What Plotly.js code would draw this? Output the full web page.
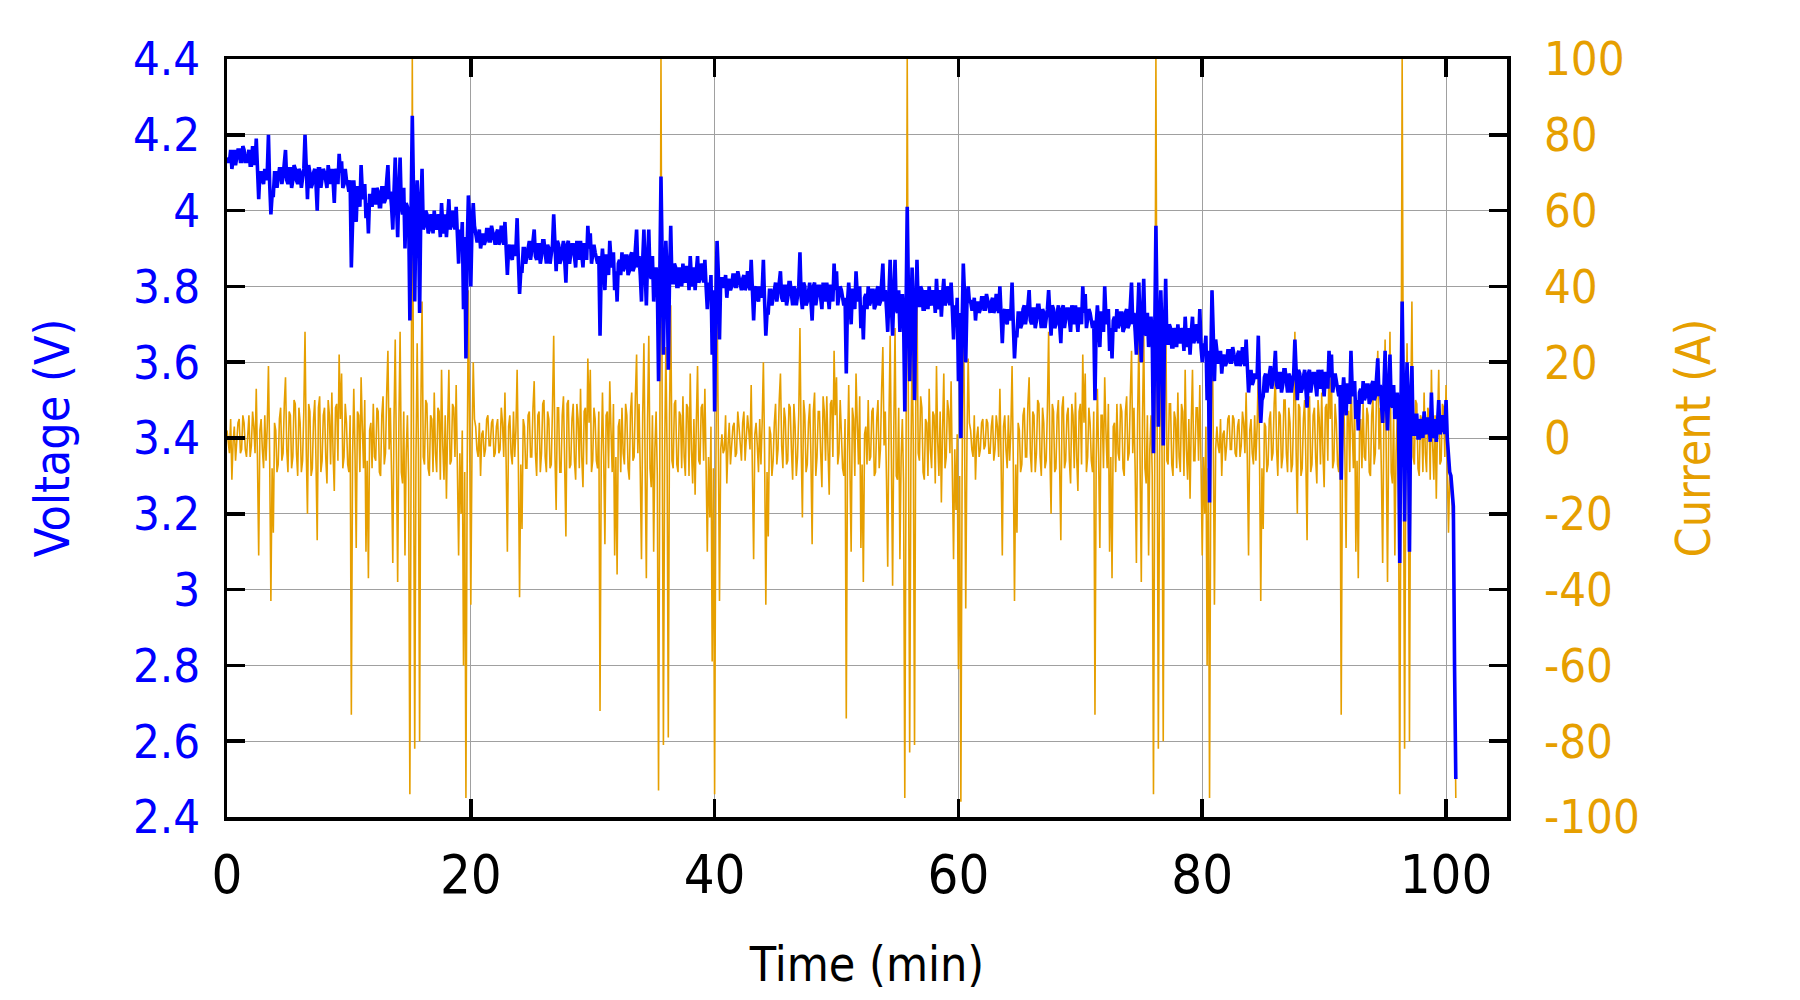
<!DOCTYPE html>
<html>
<head>
<meta charset="utf-8">
<script src="https://cdn.plot.ly/plotly-3.0.1.min.js"></script>
<style>html,body{margin:0;padding:0;background:#fff;}#chart{width:1800px;height:1000px;}</style>
</head>
<body>
<div id="chart"></div>
<script>
// Sampling of the logged series (minutes)
const timeStartMin = 0;
const sampleStepMin = 0.1;

// Voltage (V), one drive cycle per array
const voltageCycle1 = [4.14,4.13,4.13,4.16,4.11,4.14,4.16,4.12,4.14,4.16,4.16,4.13,4.13,4.17,4.16,4.13,4.13,4.15,4.16,4.12,
 4.12,4.17,4.14,4.12,4.19,4.10,4.03,4.10,4.10,4.08,4.07,4.11,4.08,4.10,4.20,4.07,3.99,4.04,4.04,4.10,
 4.10,4.06,4.08,4.11,4.11,4.07,4.09,4.12,4.16,4.08,4.07,4.11,4.11,4.06,4.08,4.12,4.11,4.08,4.07,4.11,
 4.10,4.06,4.08,4.11,4.20,4.08,4.03,4.12,4.10,4.06,4.07,4.10,4.11,4.07,4.00,4.11,4.11,4.06,4.08,4.11,
 4.10,4.08,4.06,4.12,4.09,4.07,4.11,4.08,4.02,4.11,4.10,4.07,4.15,4.10,4.13,4.06,4.07,4.11,4.08,4.07,
 4.05,4.08,3.85,4.03,4.08,4.03,3.97,4.06,4.06,4.01,4.12,4.05,4.03,4.07,3.98,4.02,3.94,4.04,4.04,4.01,
 4.06,4.02,4.02,4.06,4.05,4.01,4.01,4.06,4.06,4.02,4.03,4.08,4.12,4.03,4.05,4.01,3.95,4.05,4.14,4.02,
 3.93,4.05,4.14,4.01,3.99,4.06,3.90,4.02,4.01,3.99,3.71,4.00,4.25,4.05,3.76,3.99,4.08,4.01,3.73,4.00,
 4.11,3.95,3.96,4.00,3.99,3.94,3.95,3.99,3.98,3.94,4.00,3.96,3.95,3.99,3.98,3.93,4.02,3.96,3.94,3.99,
 3.93,3.98,4.03,3.95,3.96,4.00,3.98,3.95,4.01,3.94,3.86,3.95,3.90,3.97,3.74,3.93,3.61,3.90,4.04,3.98,
 3.80,3.96,4.02,3.96];
const voltageCycle2 = [3.94,3.92,3.92,3.95,3.90,3.93,3.94,3.91,3.92,3.95,3.95,3.92,3.92,3.96,3.94,3.92,3.91,3.94,3.95,3.91,
 3.92,3.96,3.93,3.91,3.97,3.89,3.83,3.90,3.91,3.88,3.87,3.91,3.88,3.90,3.98,3.87,3.78,3.84,3.84,3.90,
 3.90,3.86,3.88,3.91,3.92,3.87,3.89,3.92,3.95,3.88,3.87,3.91,3.91,3.86,3.88,3.92,3.92,3.88,3.86,3.91,
 3.90,3.86,3.88,3.91,3.99,3.88,3.84,3.92,3.91,3.86,3.87,3.90,3.92,3.87,3.81,3.91,3.92,3.86,3.88,3.91,
 3.91,3.88,3.85,3.92,3.90,3.87,3.92,3.88,3.85,3.91,3.91,3.87,3.96,3.90,3.94,3.86,3.88,3.91,3.89,3.87,
 3.86,3.88,3.67,3.85,3.90,3.85,3.79,3.88,3.88,3.83,3.92,3.87,3.85,3.89,3.79,3.84,3.76,3.86,3.87,3.83,
 3.89,3.84,3.85,3.88,3.88,3.83,3.84,3.88,3.89,3.84,3.85,3.90,3.95,3.85,3.88,3.83,3.76,3.87,3.95,3.84,
 3.75,3.87,3.95,3.83,3.82,3.88,3.76,3.84,3.85,3.81,3.55,3.82,4.09,3.87,3.62,3.81,3.92,3.83,3.58,3.82,
 3.96,3.81,3.81,3.86,3.85,3.80,3.80,3.85,3.84,3.80,3.86,3.82,3.81,3.85,3.85,3.79,3.88,3.82,3.80,3.85,
 3.79,3.84,3.88,3.81,3.82,3.86,3.85,3.81,3.87,3.80,3.74,3.81,3.77,3.83,3.62,3.79,3.47,3.76,3.92,3.84,
 3.66,3.82];
const voltageCycle3 = [3.82,3.80,3.80,3.83,3.77,3.81,3.82,3.79,3.80,3.83,3.83,3.80,3.80,3.84,3.82,3.80,3.79,3.82,3.83,3.79,
 3.80,3.84,3.82,3.79,3.87,3.77,3.71,3.79,3.80,3.77,3.76,3.80,3.77,3.79,3.87,3.76,3.67,3.73,3.73,3.79,
 3.79,3.75,3.77,3.80,3.81,3.76,3.78,3.81,3.84,3.77,3.76,3.80,3.80,3.75,3.77,3.81,3.81,3.77,3.75,3.80,
 3.79,3.75,3.77,3.80,3.89,3.77,3.74,3.81,3.80,3.75,3.76,3.79,3.81,3.76,3.71,3.80,3.81,3.75,3.77,3.80,
 3.80,3.77,3.74,3.81,3.79,3.76,3.81,3.77,3.74,3.80,3.80,3.76,3.86,3.79,3.84,3.75,3.77,3.80,3.79,3.76,
 3.75,3.77,3.57,3.76,3.81,3.76,3.70,3.79,3.79,3.74,3.84,3.78,3.76,3.80,3.69,3.75,3.66,3.77,3.78,3.74,
 3.80,3.75,3.76,3.79,3.79,3.74,3.75,3.79,3.80,3.75,3.76,3.81,3.86,3.76,3.79,3.74,3.68,3.78,3.87,3.75,
 3.67,3.78,3.87,3.74,3.73,3.79,3.68,3.75,3.78,3.72,3.47,3.73,4.01,3.78,3.55,3.72,3.85,3.74,3.50,3.73,
 3.87,3.75,3.75,3.80,3.79,3.74,3.74,3.79,3.78,3.74,3.80,3.76,3.75,3.79,3.78,3.73,3.82,3.76,3.74,3.79,
 3.72,3.78,3.82,3.75,3.76,3.80,3.79,3.75,3.81,3.74,3.66,3.75,3.70,3.77,3.55,3.73,3.40,3.70,3.86,3.78,
 3.60,3.76,3.80,3.76];
const voltageCycle4 = [3.76,3.74,3.74,3.77,3.71,3.75,3.76,3.73,3.74,3.77,3.77,3.74,3.74,3.78,3.76,3.74,3.73,3.76,3.77,3.73,
 3.74,3.78,3.75,3.73,3.80,3.71,3.65,3.73,3.74,3.71,3.70,3.74,3.71,3.73,3.81,3.70,3.61,3.67,3.67,3.73,
 3.73,3.69,3.70,3.74,3.75,3.70,3.72,3.75,3.79,3.71,3.70,3.74,3.74,3.69,3.71,3.75,3.75,3.71,3.69,3.74,
 3.73,3.69,3.71,3.74,3.79,3.71,3.67,3.75,3.74,3.69,3.70,3.73,3.75,3.70,3.65,3.74,3.75,3.69,3.71,3.74,
 3.74,3.71,3.68,3.75,3.73,3.70,3.75,3.71,3.68,3.74,3.74,3.70,3.80,3.73,3.78,3.69,3.71,3.74,3.73,3.70,
 3.69,3.71,3.50,3.70,3.75,3.70,3.64,3.73,3.73,3.68,3.80,3.72,3.70,3.74,3.63,3.69,3.61,3.71,3.72,3.68,
 3.74,3.69,3.70,3.73,3.73,3.68,3.69,3.73,3.74,3.69,3.70,3.75,3.81,3.70,3.73,3.68,3.62,3.72,3.81,3.69,
 3.60,3.72,3.82,3.68,3.67,3.73,3.64,3.69,3.72,3.66,3.36,3.67,3.96,3.72,3.43,3.66,3.79,3.68,3.38,3.67,
 3.82,3.65,3.65,3.70,3.69,3.64,3.64,3.69,3.68,3.64,3.70,3.66,3.65,3.69,3.68,3.63,3.72,3.66,3.64,3.69,
 3.62,3.68,3.72,3.65,3.66,3.70,3.69,3.65,3.74,3.64,3.60,3.65,3.63,3.67,3.50,3.63,3.23,3.60,3.79,3.68,
 3.55,3.66];
const voltageCycle5 = [3.62,3.60,3.60,3.63,3.57,3.61,3.62,3.59,3.60,3.63,3.63,3.60,3.60,3.64,3.62,3.60,3.59,3.62,3.63,3.59,
 3.60,3.64,3.61,3.59,3.66,3.57,3.52,3.56,3.58,3.54,3.55,3.57,3.56,3.56,3.67,3.53,3.44,3.50,3.51,3.56,
 3.57,3.52,3.54,3.57,3.59,3.53,3.55,3.58,3.63,3.54,3.53,3.57,3.57,3.52,3.54,3.58,3.58,3.54,3.52,3.57,
 3.56,3.52,3.54,3.57,3.66,3.54,3.50,3.58,3.57,3.52,3.53,3.56,3.58,3.53,3.48,3.57,3.58,3.52,3.54,3.57,
 3.57,3.54,3.51,3.58,3.56,3.53,3.58,3.54,3.51,3.57,3.57,3.53,3.63,3.56,3.62,3.52,3.54,3.57,3.55,3.53,
 3.51,3.54,3.29,3.51,3.56,3.51,3.46,3.54,3.54,3.49,3.63,3.53,3.51,3.55,3.45,3.50,3.42,3.52,3.53,3.49,
 3.55,3.50,3.51,3.54,3.54,3.49,3.50,3.54,3.55,3.50,3.51,3.56,3.61,3.51,3.54,3.49,3.44,3.53,3.63,3.50,
 3.42,3.53,3.62,3.49,3.48,3.54,3.45,3.50,3.52,3.47,3.07,3.48,3.76,3.53,3.18,3.47,3.60,3.49,3.10,3.48,
 3.59,3.41,3.41,3.46,3.46,3.40,3.40,3.45,3.44,3.40,3.47,3.42,3.41,3.45,3.45,3.39,3.52,3.42,3.40,3.45,
 3.39,3.44,3.50,3.41,3.42,3.46,3.45,3.41,3.50,3.40,3.33,3.31,3.30,3.27,3.22,2.79,2.50];

// Current (A), one drive cycle per array
const currentCycle1 = [2,-2,-4,5,-11,-1,3,-6,-2,4,5,-4,-3,6,4,-3,-5,2,6,-5,
 -2,7,3,-4,13,-6,-31,2,5,-3,-8,6,-6,3,19,-5,-43,-8,-25,4,
 2,-9,-7,5,8,-6,-4,9,16,-3,-9,7,6,-8,-5,10,9,-4,-10,8,
 4,-9,-6,7,28,-3,-20,9,7,-10,-8,5,10,-6,-27,8,11,-9,-6,6,
 8,-5,-12,10,6,-7,12,-4,-14,8,9,-6,22,5,17,-8,-5,9,4,-7,
 -9,6,-73,-5,13,-4,-29,7,6,-9,16,3,-8,10,-30,-6,-37,2,4,-8,
 9,-5,-6,8,7,-9,-10,6,11,-7,-4,12,23,-3,8,-10,-33,5,26,-6,
 -38,4,28,-9,-12,7,-31,-4,6,-11,-94,-8,100,4,-82,-6,25,-3,-80,7,
 36,-5,-7,10,9,-8,-10,6,5,-9,12,-4,-9,8,7,-11,18,-2,-11,6,
 -16,3,18,-7,-6,9,8,-5,14,-8,-31,-4,-20,2,-60,-9,-95,-10,39,3,
 -44,-2,20,5];
const currentCycle2 = [3,-3,-5,4,-10,1,2,-5,-3,5,6,-2,-2,4,5,-5,-4,3,5,-4,
 -3,8,4,-5,12,-7,-30,3,6,-4,-7,7,-5,2,18,-6,-42,-7,-24,5,
 3,-8,-8,6,7,-5,-5,8,15,-4,-10,6,7,-9,-4,9,10,-5,-9,7,
 5,-8,-7,8,27,-4,-19,8,8,-9,-9,6,11,-7,-26,9,10,-8,-7,5,
 9,-6,-11,9,5,-8,13,-5,-13,7,8,-7,21,4,18,-9,-6,8,5,-6,
 -8,7,-72,-6,12,-5,-28,6,7,-8,15,2,-9,9,-31,-5,-36,3,5,-9,
 8,-4,-7,9,6,-8,-11,7,12,-6,-5,11,22,-4,9,-9,-32,6,25,-7,
 -37,5,27,-8,-13,6,-30,-3,7,-10,-93,-7,100,5,-81,-5,24,-4,-79,6,
 35,-6,-8,9,10,-7,-9,7,6,-8,11,-5,-10,9,8,-10,17,-3,-12,5,
 -15,4,19,-6,-7,8,9,-6,13,-7,-30,-5,-21,3,-59,-8,-94,-9,38,2,
 -43,-3];
const currentCycle3 = [1,-4,-3,6,-12,-2,4,-7,-1,3,4,-5,-4,7,3,-2,-6,4,7,-6,
 -1,6,2,-3,14,-5,-32,1,4,-2,-9,5,-7,4,20,-4,-44,-9,-26,3,
 1,-10,-6,4,9,-7,-3,10,17,-2,-8,8,5,-7,-6,9,8,-3,-11,9,
 3,-10,-5,6,29,-2,-21,10,6,-9,-7,4,9,-5,-28,7,12,-10,-5,7,
 7,-4,-13,11,7,-6,11,-3,-15,9,10,-5,23,6,16,-7,-4,10,3,-8,
 -10,5,-74,-4,14,-3,-30,8,5,-10,17,4,-7,11,-29,-7,-38,1,3,-7,
 10,-6,-5,7,8,-10,-9,5,10,-8,-3,13,24,-2,7,-11,-34,4,27,-5,
 -39,3,29,-10,-11,8,-32,-5,5,-12,-95,-9,100,3,-83,-7,26,-2,-81,8,
 37,-4,-6,11,8,-9,-11,5,4,-10,13,-3,-8,7,6,-12,19,-1,-10,7,
 -17,2,17,-8,-5,10,7,-4,15,-9,-32,-3,-19,1,-61,-10,-96,-11,40,4,
 -45,-1,21,4];
const currentCycle4 = [2,-3,-5,6,-11,0,3,-5,-3,4,5,-3,-2,5,4,-4,-4,3,6,-6,
 -3,6,3,-5,13,-6,-31,3,6,-3,-8,6,-6,2,19,-6,-43,-7,-25,4,
 2,-9,-7,6,8,-5,-5,9,16,-4,-9,7,6,-9,-4,10,9,-5,-10,8,
 4,-8,-6,8,28,-4,-20,9,7,-9,-8,6,10,-7,-27,8,11,-8,-6,6,
 8,-6,-12,9,6,-8,12,-5,-14,7,9,-7,22,4,17,-9,-5,8,4,-6,
 -9,7,-73,-6,13,-5,-29,6,6,-8,16,2,-8,9,-30,-5,-37,3,4,-9,
 9,-4,-6,9,7,-8,-10,7,11,-6,-4,11,23,-4,8,-9,-33,6,26,-7,
 -38,5,28,-8,-12,6,-31,-3,6,-10,-94,-7,100,5,-82,-5,25,-4,-80,6,
 36,-6,-7,9,9,-7,-10,7,5,-8,12,-5,-9,9,7,-10,18,-3,-11,5,
 -16,4,18,-6,-6,8,8,-6,14,-7,-31,-5,-20,3,-60,-8,-95,-9,39,2,
 -44,-3];
const currentCycle5 = [3,-2,-4,5,-10,1,2,-6,-2,5,6,-3,-3,6,5,-4,-5,3,5,-5,
 -2,7,4,-4,12,-6,-31,2,5,-4,-7,6,-6,3,18,-5,-43,-8,-24,4,
 3,-9,-7,5,7,-6,-4,9,16,-3,-10,7,6,-8,-5,10,10,-4,-9,8,
 4,-9,-7,7,28,-3,-20,9,8,-10,-8,5,10,-6,-27,8,11,-9,-7,6,
 8,-5,-12,10,5,-7,12,-4,-13,8,9,-6,22,5,17,-8,-6,9,4,-7,
 -9,6,-73,-5,12,-4,-29,7,7,-9,16,3,-8,10,-30,-6,-37,2,5,-8,
 9,-5,-6,8,6,-9,-10,6,11,-7,-4,12,23,-3,8,-10,-33,5,26,-6,
 -38,4,28,-9,-12,7,-31,-4,6,-11,-94,-8,100,4,-82,-6,25,-3,-80,7,
 36,-5,-7,10,9,-8,-10,6,5,-9,12,-4,-9,8,7,-11,18,-2,-11,6,
 -16,3,18,-7,-6,9,8,-5,14,-8,-25,-10,-12,-18,-25,-60,-95];

// Tick labels
const timeTicks = [0,20,40,60,80,100];
const timeTickLabels = ["0","20","40","60","80","100"];
const voltageTicks = [2.4,2.6,2.8,3.0,3.2,3.4,3.6,3.8,4.0,4.2,4.4];
const voltageTickLabels = ["2.4","2.6","2.8","3","3.2","3.4","3.6","3.8","4","4.2","4.4"];
const currentTicks = [-100,-80,-60,-40,-20,0,20,40,60,80,100];
const currentTickLabels = ["-100","-80","-60","-40","-20","0","20","40","60","80","100"];

const voltage = [].concat(voltageCycle1, voltageCycle2, voltageCycle3, voltageCycle4, voltageCycle5);
const current = [].concat(currentCycle1, currentCycle2, currentCycle3, currentCycle4, currentCycle5);

const FONT = '"DejaVu Sans Condensed", "DejaVu Sans", sans-serif';
const BLUE = '#0000FF';
const ORANGE = '#E69F00';
const GRID = '#a0a0a0';

const traces = [
  {type:'scatter', mode:'lines', name:'Current', y: current, x0: timeStartMin, dx: sampleStepMin,
   xaxis:'x', yaxis:'y', line:{color:ORANGE, width:1.6}},
  {type:'scatter', mode:'lines', name:'Voltage', y: voltage, x0: timeStartMin, dx: sampleStepMin,
   xaxis:'x', yaxis:'y2', line:{color:BLUE, width:3.6}}
];

const axisCommon = {
  showline:true, linecolor:'black', linewidth:3.5,
  ticks:'inside', ticklen:18, tickwidth:3.5, tickcolor:'black',
  zeroline:false
};

const layout = {
  width:1800, height:1000,
  margin:{l:227, r:293, t:59, b:183, pad:0},
  paper_bgcolor:'#ffffff', plot_bgcolor:'#ffffff',
  showlegend:false,
  font:{family:FONT, size:48, color:'black'},
  xaxis: Object.assign({}, axisCommon, {
    range:[0,105], tickmode:'array', tickvals:timeTicks, ticktext:timeTickLabels,
    mirror:'ticks', showgrid:true, gridcolor:GRID, gridwidth:1,
    tickfont:{family:FONT, size:54, color:'black'}, ticklabelstandoff:8,
    title:{text:'Time (min)', font:{family:FONT, size:48, color:'black'}, standoff:43}
  }),
  yaxis: Object.assign({}, axisCommon, {
    range:[-100,100], side:'right', tickmode:'array', tickvals:currentTicks, ticktext:currentTickLabels,
    showgrid:false, tickfont:{family:FONT, size:47, color:ORANGE}, ticklabelstandoff:24,
    title:{text:'Current (A)', font:{family:FONT, size:48, color:ORANGE}, standoff:38}
  }),
  yaxis2: Object.assign({}, axisCommon, {
    range:[2.4,4.4], side:'left', overlaying:'y', anchor:'x', tickmode:'array',
    tickvals:voltageTicks, ticktext:voltageTickLabels,
    showgrid:true, gridcolor:GRID, gridwidth:1,
    tickfont:{family:FONT, size:47, color:BLUE}, ticklabelstandoff:14,
    title:{text:'Voltage (V)', font:{family:FONT, size:48, color:BLUE}, standoff:49}
  })
};

Plotly.newPlot('chart', traces, layout, {staticPlot:true, displayModeBar:false});
</script>
</body>
</html>
